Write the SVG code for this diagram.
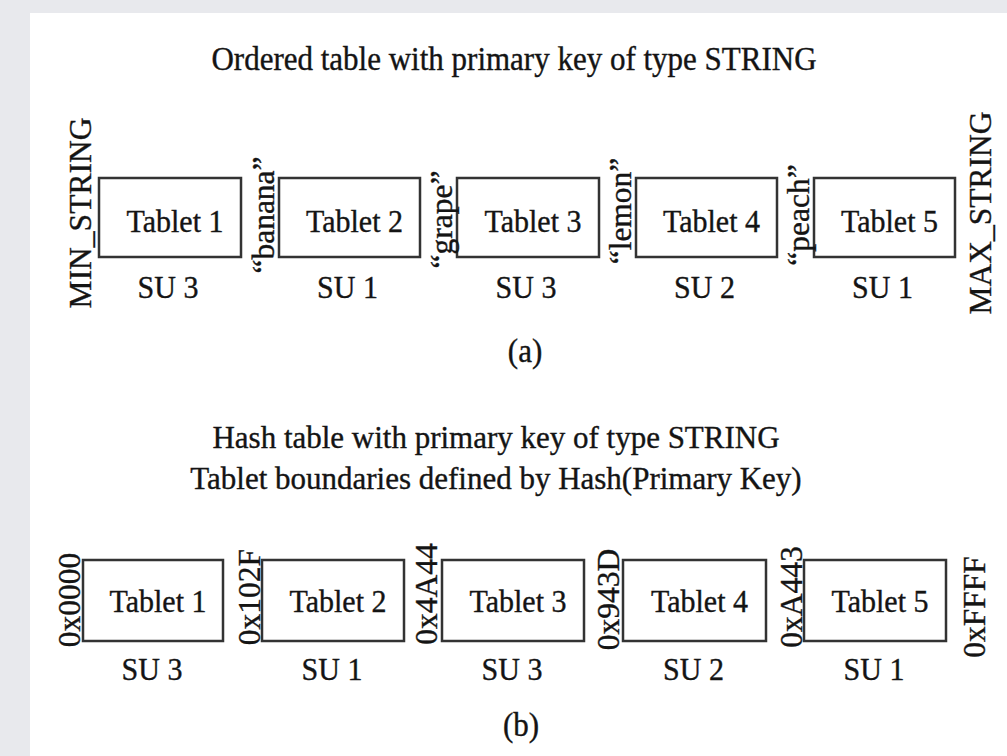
<svg xmlns="http://www.w3.org/2000/svg" width="1007" height="756" viewBox="0 0 1007 756">
  <style>
    text { font-family: "Liberation Serif", "Times New Roman", serif; fill: #141414; stroke: #141414; stroke-width: 0.35; }
    .title { font-size: 31px; text-anchor: middle; }
    .cap { font-size: 31px; text-anchor: middle; }
    .lbl { font-size: 30px; text-anchor: middle; }
    .key { font-size: 31.5px; text-anchor: middle; }
    .box { fill: #ffffff; stroke: #333333; stroke-width: 2.5; }
  </style>

  <!-- page frame -->
  <rect x="0" y="0" width="1007" height="756" fill="#e8e9ed"/>
  <rect x="30" y="13" width="977" height="743" fill="#ffffff"/>

  <!-- (a) ordered table -->
  <text class="title" transform="translate(514,70) scale(1,1.06)">Ordered table with primary key of type STRING</text>

  <g id="a-tablet1">
    <rect class="box" x="99" y="178" width="142" height="79"/>
    <text class="lbl" transform="translate(175,232) scale(1,1.07)">Tablet 1</text>
    <text class="lbl" transform="translate(168,298) scale(1,1.07)">SU 3</text>
  </g>
  <g id="a-tablet2">
    <rect class="box" x="279" y="178" width="141" height="79"/>
    <text class="lbl" transform="translate(354.5,232) scale(1,1.07)">Tablet 2</text>
    <text class="lbl" transform="translate(347.5,298) scale(1,1.07)">SU 1</text>
  </g>
  <g id="a-tablet3">
    <rect class="box" x="457" y="178" width="142" height="79"/>
    <text class="lbl" transform="translate(533,232) scale(1,1.07)">Tablet 3</text>
    <text class="lbl" transform="translate(526,298) scale(1,1.07)">SU 3</text>
  </g>
  <g id="a-tablet4">
    <rect class="box" x="636" y="178" width="141" height="79"/>
    <text class="lbl" transform="translate(711.5,232) scale(1,1.07)">Tablet 4</text>
    <text class="lbl" transform="translate(704.5,298) scale(1,1.07)">SU 2</text>
  </g>
  <g id="a-tablet5">
    <rect class="box" x="814" y="178" width="141" height="79"/>
    <text class="lbl" transform="translate(889.5,232) scale(1,1.07)">Tablet 5</text>
    <text class="lbl" transform="translate(882.5,298) scale(1,1.07)">SU 1</text>
  </g>

  <!-- (a) split keys, rotated to read upward -->
  <g id="a-keys">
    <text class="key" transform="translate(91,213) rotate(-90)">MIN_STRING</text>
    <text class="key" transform="translate(274,215) rotate(-90)">“banana”</text>
    <text class="key" transform="translate(452,219.5) rotate(-90)">“grape”</text>
    <text class="key" transform="translate(631,211) rotate(-90)">“lemon”</text>
    <text class="key" transform="translate(809,215) rotate(-90)">“peach”</text>
    <text class="key" transform="translate(991,213) rotate(-90)">MAX_STRING</text>
  </g>

  <text class="cap" transform="translate(525,362) scale(1,1.06)">(a)</text>

  <!-- (b) hash table -->
  <text class="title" transform="translate(496,448) scale(1,1.04)">Hash table with primary key of type STRING</text>
  <text class="title" transform="translate(496,489) scale(1,1.04)">Tablet boundaries defined by Hash(Primary Key)</text>

  <g id="b-tablet1">
    <rect class="box" x="83" y="560" width="140" height="81"/>
    <text class="lbl" transform="translate(158,612) scale(1,1.07)">Tablet 1</text>
    <text class="lbl" transform="translate(152,680) scale(1,1.07)">SU 3</text>
  </g>
  <g id="b-tablet2">
    <rect class="box" x="262" y="560" width="142" height="81"/>
    <text class="lbl" transform="translate(338,612) scale(1,1.07)">Tablet 2</text>
    <text class="lbl" transform="translate(332,680) scale(1,1.07)">SU 1</text>
  </g>
  <g id="b-tablet3">
    <rect class="box" x="442" y="560" width="142" height="81"/>
    <text class="lbl" transform="translate(518,612) scale(1,1.07)">Tablet 3</text>
    <text class="lbl" transform="translate(512,680) scale(1,1.07)">SU 3</text>
  </g>
  <g id="b-tablet4">
    <rect class="box" x="623" y="560" width="143" height="81"/>
    <text class="lbl" transform="translate(699.5,612) scale(1,1.07)">Tablet 4</text>
    <text class="lbl" transform="translate(693.5,680) scale(1,1.07)">SU 2</text>
  </g>
  <g id="b-tablet5">
    <rect class="box" x="804" y="560" width="142" height="81"/>
    <text class="lbl" transform="translate(880,612) scale(1,1.07)">Tablet 5</text>
    <text class="lbl" transform="translate(874,680) scale(1,1.07)">SU 1</text>
  </g>

  <!-- (b) hash boundaries, rotated to read upward -->
  <g id="b-keys">
    <text class="key" transform="translate(80,600) rotate(-90)">0x0000</text>
    <text class="key" transform="translate(259.5,597) rotate(-90)">0x102F</text>
    <text class="key" transform="translate(436.5,594) rotate(-90)">0x4A44</text>
    <text class="key" transform="translate(618.5,599.5) rotate(-90)">0x943D</text>
    <text class="key" transform="translate(801.5,597) rotate(-90)">0xA443</text>
    <text class="key" transform="translate(984.5,607) rotate(-90)">0xFFFF</text>
  </g>

  <text class="cap" transform="translate(521,736) scale(1,1.06)">(b)</text>
</svg>
